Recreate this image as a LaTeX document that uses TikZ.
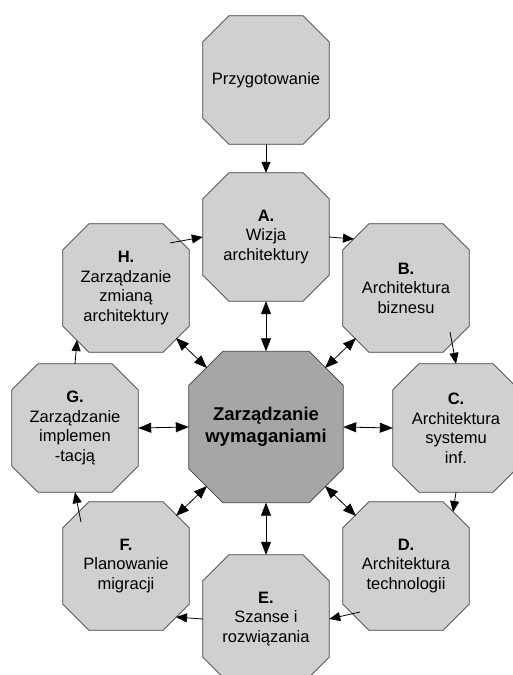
\documentclass[tikz,border=0pt]{standalone}
\usepackage{fontspec}
\setmainfont{Liberation Sans}
\usetikzlibrary{calc,backgrounds,arrows.meta}
\definecolor{phasefill}{RGB}{208,208,208}
\definecolor{corefill}{RGB}{166,166,166}
\definecolor{edgegray}{RGB}{64,64,64}

\begin{document}
\begin{tikzpicture}[x=1pt,y=-1pt,
  phase/.style={rectangle,minimum width=126pt,minimum height=128pt,inner sep=0pt,
    align=center,font=\fontsize{16.5}{19.5}\selectfont},
  core/.style={phase,minimum width=154pt,minimum height=151pt,
    font=\fontsize{18.5}{21.5}\selectfont\bfseries},
  octa/.style={draw=edgegray,line width=0.8pt},
  flow/.style={-{Triangle[length=11pt,width=9pt]},line width=0.8pt},
  link/.style={{Triangle[length=13pt,width=10pt]}-{Triangle[length=13pt,width=10pt]},line width=0.8pt}]
   \useasboundingbox (0,0) rectangle (513,675);
   \clip (0,0) rectangle (513,675);
   % phases of the cycle
   \node[phase] (P) at (266,80) {Przygotowanie};
   \node[phase] (A) at (266,237) {\textbf{A.}\\Wizja\\architektury};
   \node[phase] (B) at (406,288) {\textbf{B.}\\Architektura\\biznesu};
   \node[phase] (C) at (456,428) {\textbf{C.}\\Architektura\\systemu\\inf.};
   \node[phase] (D) at (406,566) {\textbf{D.}\\Architektura\\technologii};
   \node[phase] (E) at (266,619) {\textbf{E.}\\Szanse i\\rozwiązania};
   \node[phase] (F) at (126,566) {\textbf{F.}\\Planowanie\\migracji};
   \node[phase] (G) at (75,428) {\textbf{G.}\\Zarządzanie\\implemen\\-tacją};
   \node[phase] (H) at (126,288) {\textbf{H.}\\Zarządzanie\\zmianą\\architektury};
   \node[core] (M) at (266,427) {Zarządzanie\\wymaganiami};
   % octagons behind the texts
   \begin{scope}[on background layer]
   \foreach \n/\c/\f in {P/26/phasefill,A/26/phasefill,B/26/phasefill,C/26/phasefill,
       D/26/phasefill,E/26/phasefill,F/26/phasefill,G/26/phasefill,H/26/phasefill,M/34/corefill}
     \filldraw[octa,fill=\f] ($(\n.north west)+(\c,0)$) -- ($(\n.north east)+(-\c,0)$)
       -- ($(\n.north east)+(0,\c)$) -- ($(\n.south east)+(0,-\c)$)
       -- ($(\n.south east)+(-\c,0)$) -- ($(\n.south west)+(\c,0)$)
       -- ($(\n.south west)+(0,-\c)$) -- ($(\n.north west)+(0,\c)$) -- cycle;
   \end{scope}
   % cycle
   \draw[flow] (P.south) -- (A.north);
   \draw[flow] (A.east) -- ($(B.center)+(-52,-49)$);
   \draw[flow] ($(B.center)+(44,44)$) -- (C.north);
   \draw[flow] (C.south) -- ($(D.center)+(47,-54)$);
   \draw[flow] ($(D.center)+(-46,46)$) -- (E.east);
   \draw[flow] (E.west) -- ($(F.center)+(50,51)$);
   \draw[flow] ($(F.center)+(-45,-44)$) -- (G.south);
   \draw[flow] (G.north) -- ($(H.center)+(-49,52)$);
   \draw[flow] ($(H.center)+(44,-45)$) -- (A.west);
   % requirements in the middle
   \draw[link] (M.north) -- (A.south);
   \draw[link] ($(M.center)+(59,-59)$) -- ($(B.center)+(-50,50)$);
   \draw[link] (M.east) -- (C.west);
   \draw[link] ($(M.center)+(59,59)$) -- ($(D.center)+(-50,-50)$);
   \draw[link] (M.south) -- (E.north);
   \draw[link] ($(M.center)+(-59,59)$) -- ($(F.center)+(50,-50)$);
   \draw[link] (M.west) -- (G.east);
   \draw[link] ($(M.center)+(-59,-59)$) -- ($(H.center)+(50,50)$);
\end{tikzpicture}
\end{document}
